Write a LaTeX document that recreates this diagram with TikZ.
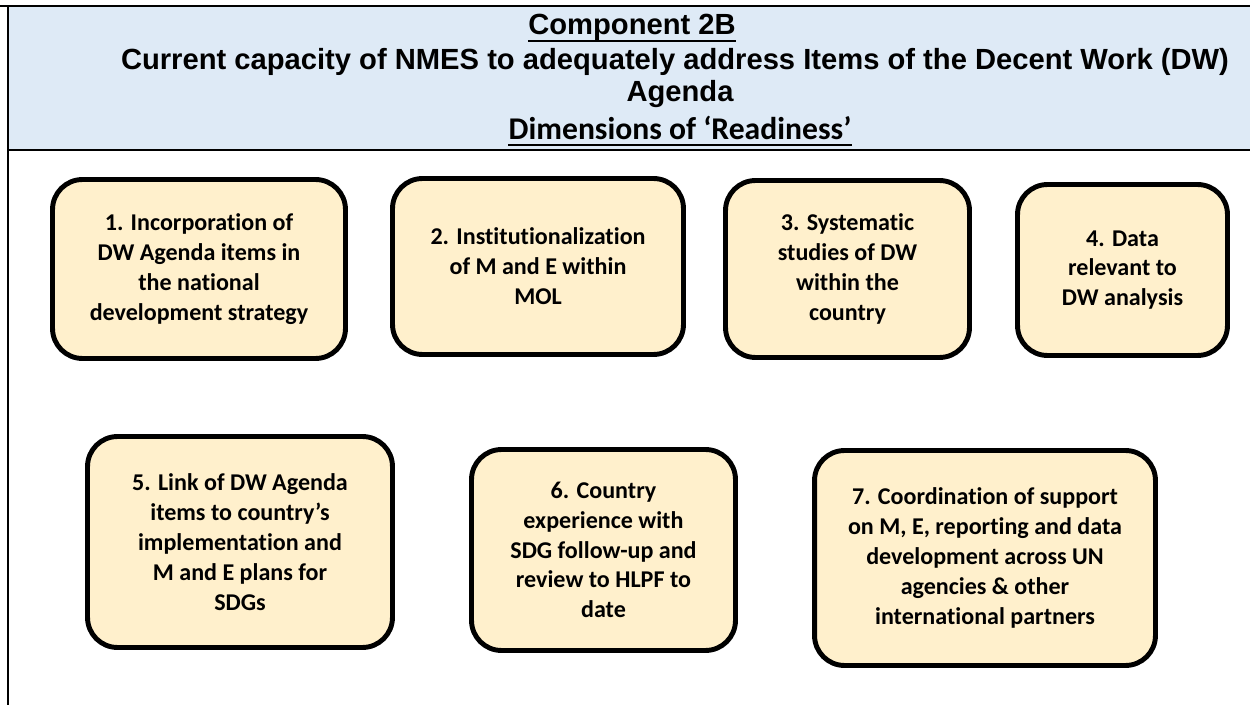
\documentclass[tikz,border=0pt]{standalone}
\usepackage{fontspec}
\setmainfont{Carlito}[Ligatures={NoCommon,NoRequired}]
\newfontfamily\arialfont{Liberation Sans}
\definecolor{headblue}{HTML}{DEEAF6}
\definecolor{boxcream}{HTML}{FFF0CC}
\begin{document}
\begin{tikzpicture}[x=0.02cm,y=-0.02cm,
	dimbox/.style={draw=black, line width=2.8pt, fill=boxcream, rounded corners=0.6cm,
		align=center, inner sep=0pt, font=\bfseries\fontsize{13.7}{17}\selectfont},
	headtext/.style={anchor=base, inner sep=0pt, font=\arialfont\bfseries\fontsize{16.6}{19}\selectfont},
	ulline/.style={line width=1.1pt}]
	
	\useasboundingbox (0,0) rectangle (1250,705);
	
	% header band
	\fill[headblue] (8,6) rectangle (1250,150);
	\draw[line width=1.1pt] (0,6) -- (1250,6);
	\draw[line width=1.1pt] (8,150) -- (1250,150);
	\draw[line width=0.8pt] (8,6) -- (8,705);
	
	% header texts
	\node[headtext] (comp) at (632,35) {Component 2B};
	\node[headtext] (capacity) at (675,70) {Current capacity of NMES to adequately address Items of the Decent Work (DW)};
	\node[headtext] (agenda) at (680,102) {Agenda};
	\node[headtext, font=\bfseries\fontsize{18}{20}\selectfont] (dims) at (680,140) {Dimensions of ‘Readiness’};
	\draw[ulline] ([yshift=-3.2pt]comp.base west) -- ([yshift=-3.2pt]comp.base east);
	\draw[ulline] ([yshift=-3pt]dims.base west) -- ([yshift=-3pt]dims.base east);
	
	% first row of dimensions
	\node[dimbox, minimum width=5.86cm, minimum height=3.58cm] (d1) at (199,269)
		{1. Incorporation of\\DW Agenda items in\\the national\\development strategy};
	\node[dimbox, minimum width=5.82cm, minimum height=3.52cm] (d2) at (538,266.5)
		{2. Institutionalization\\of M and E within\\MOL};
	\node[dimbox, minimum width=4.88cm, minimum height=3.54cm] (d3) at (847.5,269)
		{3. Systematic\\studies of DW\\within the\\country};
	\node[dimbox, minimum width=4.20cm, minimum height=3.42cm] (d4) at (1122.5,270)
		{4. Data\\relevant to\\DW analysis};
	
	% second row of dimensions
	\node[dimbox, minimum width=6.10cm, minimum height=4.22cm] (d5) at (240,542)
		{5. Link of DW Agenda\\items to country’s\\implementation and\\M and E plans for\\SDGs};
	\node[dimbox, minimum width=5.28cm, minimum height=4.02cm] (d6) at (603.5,550)
		{6. Country\\experience with\\SDG follow-up and\\review to HLPF to\\date};
	\node[dimbox, minimum width=6.82cm, minimum height=4.30cm] (d7) at (985,558)
		{7. Coordination of support\\on M, E, reporting and data\\development across UN\\agencies \& other\\international partners};
	
\end{tikzpicture}
\end{document}
